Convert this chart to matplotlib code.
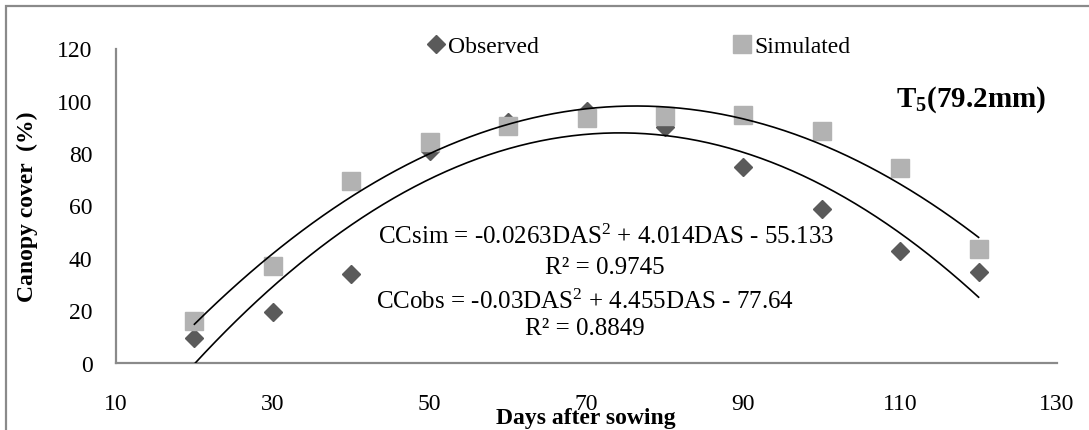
import numpy as np
import matplotlib
matplotlib.use("Agg")
import matplotlib.pyplot as plt
from matplotlib.patches import Rectangle

das = [20, 30, 40, 50, 60, 70, 80, 90, 100, 110, 120]
observed = [9.2, 19.2, 33.8, 81, 92, 96, 90, 74.6, 58.6, 42.6, 34.7]
simulated = [15.8, 36.9, 69.2, 84.2, 90.4, 93.5, 94.1, 94.7, 88.6, 74.5, 43.2]
sim_coef = [-0.0263, 4.014, -55.133]
obs_coef = [-0.03, 4.455, -77.64]
xticks = [10, 30, 50, 70, 90, 110, 130]
yticks = [0, 20, 40, 60, 80, 100, 120]

plt.rcParams['font.family'] = ['Liberation Serif', 'DejaVu Serif']
plt.rcParams['mathtext.fontset'] = 'custom'
plt.rcParams['mathtext.rm'] = 'Liberation Serif'
plt.rcParams['mathtext.it'] = 'Liberation Serif:italic'
plt.rcParams['mathtext.bf'] = 'Liberation Serif:bold'

W, H = 1089, 431
fig = plt.figure(figsize=(W / 100, H / 100), dpi=100)
ax = fig.add_axes([116 / W, 1 - 363.5 / H, (1057 - 116) / W, (363.5 - 49.5) / H])

# outer border (right/bottom lie outside the image)
fig.patches.append(Rectangle((5.5 / W, -0.05), 1.2, 1 - 7 / H + 0.05, transform=fig.transFigure,
                             fill=False, edgecolor='#8a8a8a', linewidth=1.6, clip_on=False))

xs = np.linspace(das[0], das[-1], 300)
ax.plot(xs, np.polyval(sim_coef, xs), color='black', lw=1.2, zorder=3)
ax.plot(xs, np.polyval(obs_coef, xs), color='black', lw=1.2, zorder=3)

ax.plot(das, observed, linestyle='none', marker='D', markersize=9, color='#5a5a5a',
        label='Observed', zorder=2)
ax.plot(das, simulated, linestyle='none', marker='s', markersize=13.5, color='#b2b2b2',
        label='Simulated', zorder=2)

ax.set_xlim(10, 130)
ax.set_ylim(0, 120)
ax.set_xticks(xticks)
ax.set_yticks(yticks)
ax.tick_params(length=0, labelsize=17)
ax.tick_params(axis='x', pad=22)
ax.tick_params(axis='y', pad=17)
for s in ['top', 'right']:
    ax.spines[s].set_visible(False)
for s in ['left', 'bottom']:
    ax.spines[s].set_color('#8a8a8a')
    ax.spines[s].set_linewidth(1.6)

ax.set_ylabel('Canopy cover  (%)', fontsize=17, fontweight='bold', va='center')
ax.yaxis.set_label_coords((27 - 116) / (1057 - 116), 0.5)
ax.set_xlabel('Days after sowing', fontsize=17, fontweight='bold', va='center')
ax.xaxis.set_label_coords((585.5 - 116) / (1057 - 116), (363.5 - 419) / 314)

fig.text(1046 / W, 1 - 100 / H, r'T$_\mathbf{5}$(79.2mm)', fontsize=21, fontweight='bold',
         ha='right', va='center')

def ftxt(x, y, s):
    fig.text(x / W, 1 - y / H, s, fontsize=18, ha='center', va='center')

ftxt(606, 237, r'CCsim = -0.0263DAS$^2$ + 4.014DAS - 55.133')
ftxt(605, 268, 'R² = 0.9745')
ftxt(585, 302, r'CCobs = -0.03DAS$^2$ + 4.455DAS - 77.64')
ftxt(585, 329, 'R² = 0.8849')

fig.legend(*ax.get_legend_handles_labels(), loc='center left',
           bbox_to_anchor=(427 / W, 1 - 47 / H), ncol=2, frameon=False,
           fontsize=17, handletextpad=0.1, columnspacing=8.2, handlelength=0.8,
           borderpad=0, borderaxespad=0)

fig.savefig('out.png', dpi=100)
